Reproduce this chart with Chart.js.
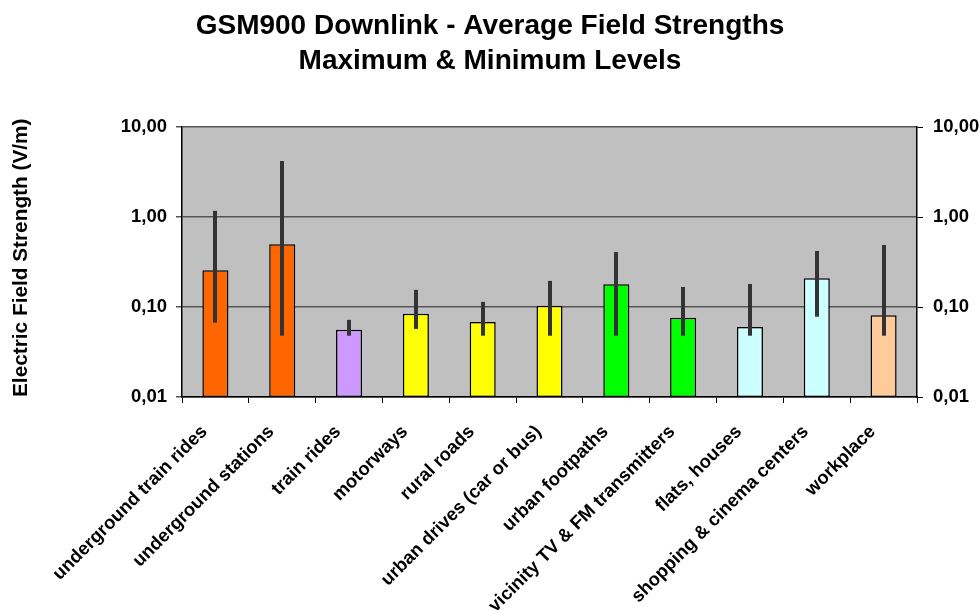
<!DOCTYPE html>
<html>
<head>
<meta charset="utf-8">
<script src="https://cdn.jsdelivr.net/npm/chart.js@4.4.1/dist/chart.umd.min.js"></script>
<style>
  html, body { margin: 0; padding: 0; background: #ffffff; }
  #wrap { width: 980px; height: 610px; }
</style>
</head>
<body>
<div id="wrap"><canvas id="c" width="980" height="610"></canvas></div>
<script>
// Measurement scenarios
const categories = [
  'underground train rides',
  'underground stations',
  'train rides',
  'motorways',
  'rural roads',
  'urban drives (car or bus)',
  'urban footpaths',
  'vicinity TV & FM transmitters',
  'flats, houses',
  'shopping & cinema centers',
  'workplace'
];

// Average field strength (V/m)
const averageLevels = [0.256, 0.497, 0.056, 0.084, 0.068, 0.103, 0.179, 0.076, 0.060, 0.208, 0.081];
// Maximum and minimum levels (V/m)
const maximumLevels = [1.17, 4.19, 0.072, 0.155, 0.114, 0.195, 0.408, 0.167, 0.180, 0.419, 0.489];
const minimumLevels = [0.067, 0.048, 0.048, 0.057, 0.048, 0.048, 0.048, 0.048, 0.048, 0.078, 0.048];

const barColors = ['#FF6600', '#FF6600', '#CC99FF', '#FFFF00', '#FFFF00', '#FFFF00',
                   '#00FF00', '#00FF00', '#CCFFFF', '#CCFFFF', '#FFCC99'];

const tickValues = [0.01, 0.1, 1, 10];
const tickLabels = ['0,01', '0,10', '1,00', '10,00'];

const FONT = "'Liberation Sans', Arial, Helvetica, sans-serif";

// Grey plot background
const plotBackground = {
  id: 'plotBackground',
  beforeDraw(chart) {
    const { ctx, chartArea: a } = chart;
    ctx.save();
    ctx.fillStyle = '#C0C0C0';
    ctx.fillRect(a.left, a.top, a.right - a.left, a.bottom - a.top);
    ctx.restore();
  }
};

// Min-max range bars drawn over each column
const rangeBars = {
  id: 'rangeBars',
  afterDatasetsDraw(chart) {
    const { ctx } = chart;
    const y = chart.scales.y;
    const meta = chart.getDatasetMeta(0);
    ctx.save();
    ctx.strokeStyle = '#333333';
    ctx.lineWidth = 4;
    ctx.lineCap = 'butt';
    meta.data.forEach((bar, i) => {
      const x = Math.round(bar.x);
      ctx.beginPath();
      ctx.moveTo(x, y.getPixelForValue(maximumLevels[i]));
      ctx.lineTo(x, y.getPixelForValue(minimumLevels[i]));
      ctx.stroke();
    });
    ctx.restore();
  }
};

function fixedTicks(scale) {
  scale.ticks = tickValues.map(v => ({ value: v }));
}
function tickText(value) {
  const i = tickValues.findIndex(v => Math.abs(v - value) < v * 1e-6);
  return i >= 0 ? tickLabels[i] : '';
}

new Chart(document.getElementById('c'), {
  type: 'bar',
  data: {
    labels: categories,
    datasets: [{
      data: averageLevels,
      backgroundColor: barColors,
      borderColor: '#000000',
      borderWidth: 1.5,
      borderSkipped: false,
      categoryPercentage: 1.0,
      barPercentage: 0.39
    }]
  },
  options: {
    responsive: false,
    animation: false,
    devicePixelRatio: 1,
    layout: { padding: { left: 0, right: 0, top: 0, bottom: 0 } },
    plugins: {
      legend: { display: false },
      tooltip: { enabled: false },
      title: {
        display: true,
        text: ['GSM900 Downlink - Average Field Strengths', 'Maximum & Minimum Levels'],
        color: '#000000',
        font: { family: FONT, size: 28, weight: 'bold', lineHeight: 1.25 },
        padding: { top: 8.5, bottom: 48.5 }
      }
    },
    scales: {
      x: {
        offset: true,
        grid: { display: true, drawOnChartArea: false, drawTicks: true, tickLength: 6, color: '#000000', offset: true },
        border: { display: true, color: '#000000', width: 1.5 },
        ticks: {
          color: '#000000',
          font: { family: FONT, size: 18.5, weight: 'bold' },
          minRotation: 45,
          maxRotation: 45,
          autoSkip: false,
          padding: 18,
          labelOffset: -11
        },
        afterFit(scale) { scale.height = 213; }
      },
      y: {
        type: 'logarithmic',
        position: 'left',
        min: 0.01,
        max: 10,
        afterBuildTicks: fixedTicks,
        grid: { color: '#555555', lineWidth: 1.5, drawTicks: true, tickLength: 6 },
        border: { display: true, color: '#000000', width: 1.5 },
        ticks: {
          color: '#000000',
          font: { family: FONT, size: 18.5, weight: 'bold' },
          padding: 9,
          callback: tickText
        },
        title: {
          display: true,
          text: 'Electric Field Strength (V/m)',
          align: 'start',
          color: '#000000',
          font: { family: FONT, size: 20.8, weight: 'bold' },
          padding: { top: 9, bottom: 0 }
        },
        afterFit(scale) { scale.width = 182; }
      },
      y2: {
        type: 'logarithmic',
        position: 'right',
        min: 0.01,
        max: 10,
        afterBuildTicks: fixedTicks,
        grid: { drawOnChartArea: false, color: '#000000', drawTicks: true, tickLength: 6 },
        border: { display: true, color: '#000000', width: 1.5 },
        ticks: {
          color: '#000000',
          font: { family: FONT, size: 18.5, weight: 'bold' },
          padding: 10,
          callback: tickText
        },
        afterFit(scale) { scale.width = 63; }
      }
    }
  },
  plugins: [plotBackground, rangeBars]
});
</script>
</body>
</html>
